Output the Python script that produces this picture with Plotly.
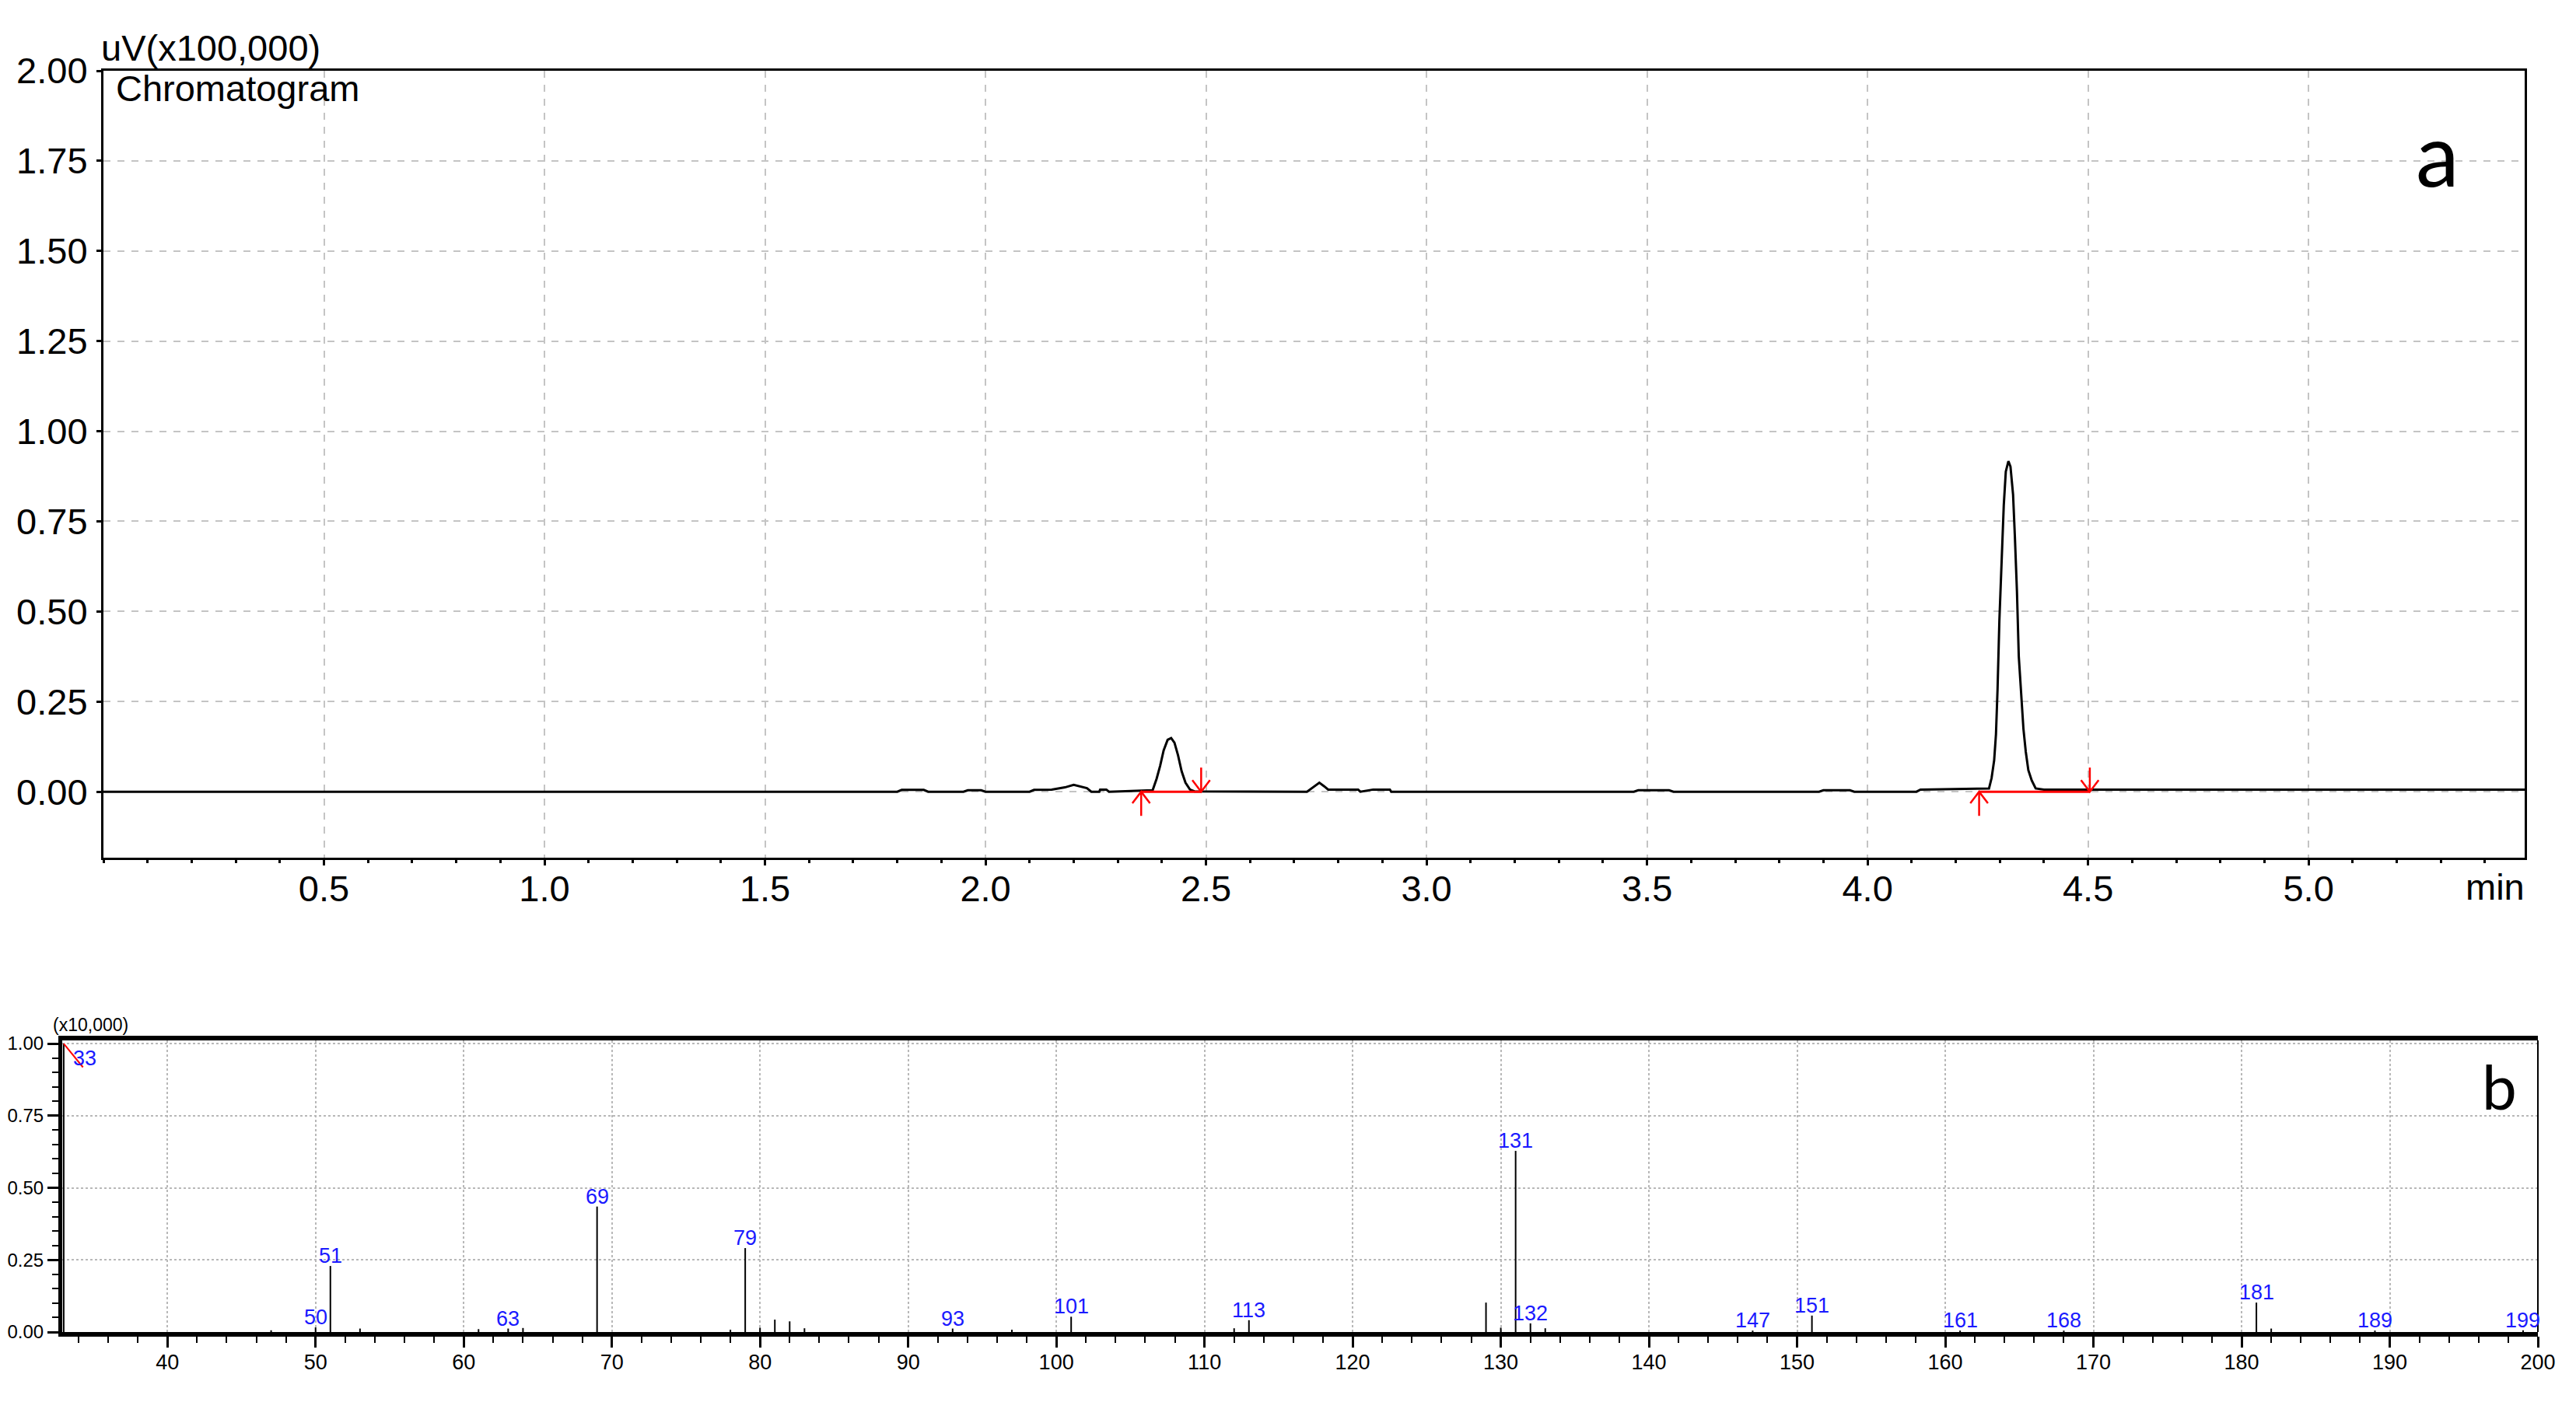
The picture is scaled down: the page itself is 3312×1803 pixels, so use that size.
import plotly.graph_objects as go

# ---------------- data ----------------
# Chromatogram: retention time (min) and signal (uV x100,000)
chrom_time = [0.00, 1.80, 1.81, 1.86, 1.87, 1.95, 1.96, 1.99, 2.00, 2.10, 2.11, 2.14,
              2.15, 2.18, 2.20, 2.23, 2.24, 2.258, 2.26, 2.274, 2.28, 2.379, 2.388,
              2.396, 2.404, 2.413, 2.421, 2.4285, 2.4366, 2.4447, 2.4535, 2.4636,
              2.4738, 2.729, 2.745, 2.757, 2.768, 2.777, 2.845, 2.85, 2.879, 2.917,
              2.92, 3.47, 3.48, 3.55, 3.56, 3.89, 3.90, 3.96, 3.97, 4.111, 4.12,
              4.2754, 4.2813, 4.2871, 4.2912, 4.2948, 4.2989, 4.3036, 4.3089, 4.3135,
              4.3194, 4.3241, 4.3300, 4.3341, 4.3388, 4.3429, 4.3488, 4.3535, 4.3588,
              4.3646, 4.3723, 4.3812, 4.40, 5.49]
chrom_signal = [0.000, 0.000, 0.005, 0.005, 0.000, 0.000, 0.004, 0.004, 0.000, 0.000,
                0.005, 0.005, 0.006, 0.012, 0.019, 0.010, 0.000, 0.000, 0.006, 0.006,
                0.000, 0.004, 0.036, 0.072, 0.115, 0.144, 0.149, 0.136, 0.101, 0.057,
                0.025, 0.006, 0.001, 0.000, 0.015, 0.025, 0.015, 0.006, 0.006, 0.000,
                0.006, 0.006, 0.000, 0.000, 0.004, 0.004, 0.000, 0.000, 0.004, 0.004,
                0.000, 0.000, 0.006, 0.009, 0.038, 0.087, 0.159, 0.284, 0.474, 0.635,
                0.795, 0.888, 0.917, 0.902, 0.824, 0.707, 0.555, 0.376, 0.272, 0.174,
                0.111, 0.060, 0.031, 0.009, 0.006, 0.006]

# Integration start / end marks (min)
peak_start = [2.353, 4.253]
peak_end = [2.489, 4.504]

# Mass spectrum: m/z and intensity (x10,000)
ms_mz = [33, 47, 50, 51, 53, 61, 63, 64, 69, 78, 79, 80, 81, 82, 83, 93, 97, 101,
         112, 113, 129, 130, 131, 132, 133, 147, 151, 161, 168, 181, 182, 189, 199]
ms_int = [1.000, 0.006, 0.016, 0.229, 0.012, 0.010, 0.012, 0.014, 0.435, 0.008, 0.291,
          0.015, 0.043, 0.037, 0.013, 0.012, 0.008, 0.053, 0.013, 0.041, 0.102, 0.015,
          0.628, 0.030, 0.013, 0.005, 0.057, 0.005, 0.005, 0.102, 0.012, 0.005, 0.006]
ms_labeled = [33, 50, 51, 63, 69, 79, 93, 101, 113, 131, 132, 147, 151, 161, 168,
              181, 189, 199]

# Tick labels
time_ticks = [0.5, 1.0, 1.5, 2.0, 2.5, 3.0, 3.5, 4.0, 4.5, 5.0]
time_tick_text = ["0.5", "1.0", "1.5", "2.0", "2.5", "3.0", "3.5", "4.0", "4.5", "5.0"]
signal_ticks = [0.0, 0.25, 0.5, 0.75, 1.0, 1.25, 1.5, 1.75, 2.0]
signal_tick_text = ["0.00", "0.25", "0.50", "0.75", "1.00", "1.25", "1.50", "1.75", "2.00"]
mz_ticks = [40, 50, 60, 70, 80, 90, 100, 110, 120, 130, 140, 150, 160, 170, 180, 190, 200]
ms_int_ticks = [0.0, 0.25, 0.5, 0.75, 1.0]
ms_int_tick_text = ["0.00", "0.25", "0.50", "0.75", "1.00"]

# ---------------- styling ----------------
W, H = 3312, 1803
FONT = "Liberation Sans, Arial, sans-serif"
SMALL = "Liberation Sans, Arial, sans-serif"
LETTER = "Lato, Open Sans, sans-serif"
ARROW_LEN = 0.067
CHEV_DX = 0.02
CHEV_DY = 0.032


def px_x(p):
    return p / W


def px_y(p):
    return 1 - p / H


fig = go.Figure()

# chromatogram line
fig.add_trace(go.Scatter(x=chrom_time, y=chrom_signal, mode="lines",
                         line=dict(color="black", width=3), xaxis="x", yaxis="y",
                         hoverinfo="skip"))

# integration baselines
bx, by = [], []
for s, e in zip(peak_start, peak_end):
    bx += [s, e, None]
    by += [0.0, 0.0, None]
fig.add_trace(go.Scatter(x=bx, y=by, mode="lines", line=dict(color="red", width=3),
                         xaxis="x", yaxis="y", hoverinfo="skip"))

# arrows (up at start, down at end)
ax_, ay_ = [], []
for s in peak_start:
    ax_ += [s, s, None, s - CHEV_DX, s, s + CHEV_DX, None]
    ay_ += [-ARROW_LEN, 0, None, -CHEV_DY, 0, -CHEV_DY, None]
for e in peak_end:
    ax_ += [e, e, None, e - CHEV_DX, e, e + CHEV_DX, None]
    ay_ += [ARROW_LEN, 0, None, CHEV_DY, 0, CHEV_DY, None]
fig.add_trace(go.Scatter(x=ax_, y=ay_, mode="lines", line=dict(color="red", width=2.5),
                         xaxis="x", yaxis="y", hoverinfo="skip"))

# mass spectrum stems
sx, sy = [], []
for m, v in zip(ms_mz, ms_int):
    sx += [m, m, None]
    sy += [0, v, None]
fig.add_trace(go.Scatter(x=sx, y=sy, mode="lines", line=dict(color="black", width=2),
                         xaxis="x2", yaxis="y2", hoverinfo="skip"))

# overflow marker for base peak
base_idx = ms_int.index(max(ms_int))
fig.add_trace(go.Scatter(x=[ms_mz[base_idx], ms_mz[base_idx] + 1.3],
                         y=[ms_int[base_idx], ms_int[base_idx] - 0.082],
                         mode="lines", line=dict(color="red", width=2),
                         xaxis="x2", yaxis="y2", hoverinfo="skip"))

annotations = []
for m, v in zip(ms_mz, ms_int):
    if m not in ms_labeled:
        continue
    if v >= 0.95:
        annotations.append(dict(x=m, y=v, xref="x2", yref="y2", text=str(m),
                                showarrow=False, xanchor="left", yanchor="top",
                                xshift=10, yshift=-2,
                                font=dict(family=SMALL, size=27, color="#1a1aff")))
    else:
        annotations.append(dict(x=m, y=v, xref="x2", yref="y2", text=str(m),
                                showarrow=False, xanchor="center", yanchor="bottom",
                                yshift=-4,
                                font=dict(family=SMALL, size=27, color="#1a1aff")))

annotations += [
    dict(x=px_x(128), y=px_y(62), xref="paper", yref="paper", text="uV(x100,000)",
         showarrow=False, xanchor="left", yanchor="middle",
         font=dict(family=FONT, size=47, color="black")),
    dict(x=px_x(147), y=px_y(114), xref="paper", yref="paper", text="Chromatogram",
         showarrow=False, xanchor="left", yanchor="middle",
         font=dict(family=FONT, size=47, color="black")),
    dict(x=px_x(3134), y=px_y(196), xref="paper", yref="paper", text="a",
         showarrow=False, xanchor="center", yanchor="middle",
         font=dict(family=LETTER, size=112, color="black")),
    dict(x=px_x(3208), y=px_y(1140), xref="paper", yref="paper", text="min",
         showarrow=False, xanchor="center", yanchor="middle",
         font=dict(family=FONT, size=47, color="black")),
    dict(x=px_x(66), y=px_y(1318), xref="paper", yref="paper", text="(x10,000)",
         showarrow=False, xanchor="left", yanchor="middle",
         font=dict(family=SMALL, size=23, color="black")),
    dict(x=px_x(3213), y=px_y(1396), xref="paper", yref="paper", text="b",
         showarrow=False, xanchor="center", yanchor="middle",
         font=dict(family=LETTER, size=80, color="black")),
]

shapes = [
    dict(type="line", xref="x2 domain", yref="y2 domain", x0=1, x1=1, y0=0, y1=1,
         line=dict(color="black", width=2)),
]

fig.update_layout(
    width=W, height=H,
    margin=dict(l=0, r=0, t=0, b=0),
    paper_bgcolor="white", plot_bgcolor="white",
    showlegend=False,
    annotations=annotations,
    shapes=shapes,
    xaxis=dict(
        domain=[px_x(133), px_x(3246)], range=[0, 5.49], anchor="y",
        tickmode="array", tickvals=time_ticks, ticktext=time_tick_text,
        showgrid=True, gridcolor="#c4c4c4", gridwidth=2, griddash="dash",
        showline=True, linecolor="black", linewidth=3, mirror=True,
        ticks="outside", ticklen=7, tickwidth=3, tickcolor="black",
        minor=dict(ticks="outside", ticklen=4, tickwidth=3, tickcolor="black",
                   dtick=0.1, tick0=0, showgrid=False),
        tickfont=dict(family=FONT, size=47, color="black"),
        ticklabelstandoff=-10, zeroline=False, automargin=False,
    ),
    yaxis=dict(
        domain=[px_y(1103), px_y(91)], range=[-0.183, 2.0], anchor="x",
        tickmode="array", tickvals=signal_ticks, ticktext=signal_tick_text,
        showgrid=True, gridcolor="#c4c4c4", gridwidth=2, griddash="dash",
        showline=True, linecolor="black", linewidth=3, mirror=True,
        ticks="outside", ticklen=6, tickwidth=3, tickcolor="black",
        tickfont=dict(family=FONT, size=47, color="black"),
        ticklabelstandoff=2, zeroline=False, automargin=False,
    ),
    xaxis2=dict(
        domain=[px_x(80), px_x(3263)], range=[32.9, 200], anchor="y2",
        tickmode="array", tickvals=mz_ticks, ticktext=[str(t) for t in mz_ticks],
        showgrid=True, gridcolor="#b8b8b8", gridwidth=2, griddash="dot",
        showline=True, linecolor="black", linewidth=6, mirror=True,
        ticks="outside", ticklen=14, tickwidth=3, tickcolor="black",
        minor=dict(ticks="outside", ticklen=8, tickwidth=2, tickcolor="black",
                   dtick=2, tick0=0, showgrid=False),
        tickfont=dict(family=SMALL, size=27, color="black"),
        ticklabelstandoff=-4, zeroline=False, automargin=False,
    ),
    yaxis2=dict(
        domain=[px_y(1713), px_y(1338)], range=[0, 1.011], anchor="x2",
        tickmode="array", tickvals=ms_int_ticks, ticktext=ms_int_tick_text,
        showgrid=True, gridcolor="#b8b8b8", gridwidth=2, griddash="dot",
        showline=True, linecolor="black", linewidth=5, mirror=False,
        ticks="outside", ticklen=14, tickwidth=3, tickcolor="black",
        minor=dict(ticks="outside", ticklen=8, tickwidth=2, tickcolor="black",
                   dtick=0.05, tick0=0, showgrid=False),
        tickfont=dict(family=SMALL, size=24, color="black"),
        ticklabelstandoff=0, zeroline=False, automargin=False,
    ),
)

fig.write_html("out.html", config={"displayModeBar": False},
               post_script="document.body.style.margin='0';document.body.style.padding='0';")
